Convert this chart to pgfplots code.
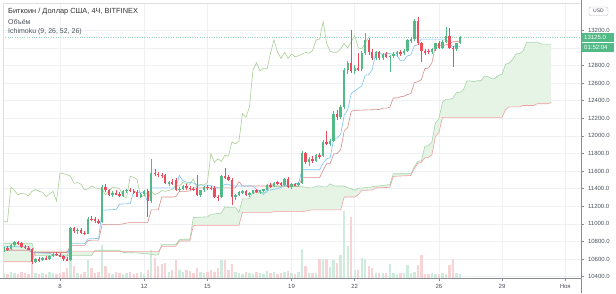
\documentclass[border=0pt]{standalone}
\usepackage{pgfplots}
\pgfplotsset{compat=1.18}
\usepgfplotslibrary{fillbetween}
\usepackage{pgfplotstable}
\usepackage{fontspec}
\setmainfont{Liberation Sans}

\definecolor{upc}{HTML}{53B987}
\definecolor{dnc}{HTML}{EB4D5C}
\definecolor{tenkan}{HTML}{7CC4F4}
\definecolor{kijun}{HTML}{D98C8C}
\definecolor{chikou}{HTML}{A9CF96}
\definecolor{spanA}{HTML}{A6D4A8}
\definecolor{spanB}{HTML}{F0A0A0}
\definecolor{cloud}{HTML}{E6F4E6}
\definecolor{gridc}{HTML}{EEF0F4}
\definecolor{axisc}{HTML}{8A8D94}
\definecolor{txt}{HTML}{4A4F59}
\definecolor{volup}{HTML}{CFEBDD}
\definecolor{voldn}{HTML}{F7D3D6}

% k open high low close volume
\pgfplotstableread{
k o h l c v
0 10700 10740 10680 10720 5
1 10720 10750 10690 10710 4
2 10710 10770 10700 10760 6
3 10760 10800 10740 10790 5
4 10790 10810 10760 10780 4
5 10780 10790 10730 10740 6
6 10740 10760 10710 10730 5
7 10730 10750 10700 10710 4
8 10720 10730 10540 10570 15
9 10570 10610 10550 10600 5
10 10600 10620 10570 10590 4
11 10590 10620 10580 10610 5
12 10610 10630 10590 10600 4
13 10600 10650 10590 10640 6
14 10640 10670 10620 10660 5
15 10660 10680 10640 10650 4
16 10650 10670 10620 10630 5
17 10630 10650 10580 10600 6
18 10600 10620 10580 10590 10
19 10590 10970 10580 10950 18
20 10950 10970 10900 10920 12
21 10920 10950 10890 10930 5
22 10930 10950 10880 10900 4
23 10900 10920 10870 10890 6
24 10890 11080 10880 11060 18
25 11060 11090 11030 11050 10
26 11050 11080 11010 11030 5
27 11030 11060 11000 11020 6
28 11020 11440 11010 11420 33
29 11420 11450 11360 11380 12
30 11380 11400 11320 11330 5
31 11330 11370 11310 11350 4
32 11350 11380 11330 11340 6
33 11340 11360 11300 11320 5
34 11320 11380 11310 11370 4
35 11370 11400 11350 11390 5
36 11390 11410 11360 11370 6
37 11370 11400 11340 11360 4
38 11360 11390 11300 11310 5
39 11310 11350 11290 11340 6
40 11340 11380 11320 11370 4
41 11370 11400 11080 11260 8
42 11260 11740 11240 11580 28
43 11580 11620 11540 11570 20
44 11570 11590 11530 11560 12
45 11560 11580 11520 11540 14
46 11550 11570 11450 11460 15
47 11460 11490 11430 11470 6
48 11480 11510 11440 11450 8
49 11500 11520 11370 11385 18
50 11385 11420 11360 11400 8
51 11400 11440 11380 11430 6
52 11430 11450 11390 11410 8
53 11410 11430 11380 11400 7
54 11400 11420 11370 11390 5
55 11410 11560 11320 11330 10
56 11330 11390 11310 11380 6
57 11380 11430 11360 11420 5
58 11420 11440 11390 11410 6
59 11410 11430 11380 11400 8
60 11410 11430 11290 11310 6
61 11310 11330 11260 11300 10
62 11300 11560 11290 11540 18
63 11540 11640 11510 11530 18
64 11530 11560 11490 11500 8
65 11500 11520 11220 11300 14
66 11300 11340 11270 11330 6
67 11330 11370 11320 11360 5
68 11360 11390 11340 11370 4
69 11370 11380 11320 11330 6
70 11330 11360 11310 11350 5
71 11350 11390 11340 11380 4
72 11380 11400 11350 11370 6
73 11370 11390 11340 11380 5
74 11380 11400 11360 11390 4
75 11390 11450 11380 11440 7
76 11440 11460 11410 11430 5
77 11430 11480 11420 11470 6
78 11470 11490 11440 11460 4
79 11460 11480 11430 11450 5
80 11440 11520 11430 11510 6
81 11510 11530 11410 11420 7
82 11420 11460 11400 11450 5
83 11450 11470 11430 11440 4
84 11440 11480 11430 11470 6
85 11470 11830 11450 11800 29
86 11800 11820 11680 11700 12
87 11700 11760 11660 11740 5
88 11740 11770 11690 11710 5
89 11710 11790 11700 11780 5
90 11780 11800 11740 11770 19
91 11770 11950 11760 11930 19
92 11930 12050 11900 11910 19
93 11910 11960 11880 11940 11
94 11940 12280 11930 12250 18
95 12250 12290 12180 12210 15
96 12210 12350 12190 12330 23
97 12330 12770 12310 12750 67
98 12750 12850 12700 12830 32
99 12830 13200 12720 12740 61
100 12740 12800 12700 12770 8
101 12770 12940 12740 12760 8
102 12760 12960 12740 12940 20
103 12940 13170 12920 13090 19
104 13090 13110 12920 12950 12
105 12950 12990 12860 12880 10
106 12880 12960 12860 12950 5
107 12950 12970 12860 12880 5
108 12880 12940 12860 12930 5
109 12930 12950 12880 12900 5
110 12900 12920 12730 12910 14
111 12910 12950 12880 12930 5
112 12930 12970 12900 12950 4
113 12950 12980 12910 12940 5
114 12940 12990 12920 12970 5
115 12970 13100 12950 13090 13
116 13090 13120 13060 13100 5
117 13100 13330 13080 13300 6
118 13300 13350 13030 13050 13
119 13050 13070 12840 12960 23
120 12960 12990 12920 12950 4
121 12970 12990 12930 12950 4
122 12950 13000 12930 12990 5
123 12990 13060 12970 13050 4
124 13060 13080 12990 13000 4
125 13000 13090 12990 13070 5
126 13070 13240 13050 13140 4
127 13140 13230 12990 13000 13
128 13000 13020 12780 12990 19
129 12990 13060 12970 13050 5
130 13050 13140 13040 13125 4
}\candles

% Tenkan-sen
\pgfplotstableread{
k y
0 10740
7 10740
8 10675
13 10665
14 10650
15 10645
16 10635
17 10615
18 10625
19 10775
23 10775
24 10830
27 10835
28 11155
32 11165
33 11225
36 11230
37 11375
38 11355
40 11355
41 11245
42 11410
49 11410
50 11550
51 11490
52 11475
53 11470
54 11465
55 11440
58 11440
59 11435
60 11425
61 11410
62 11410
63 11450
64 11450
65 11430
71 11430
72 11390
73 11370
74 11335
75 11380
76 11385
77 11395
78 11400
79 11415
80 11430
81 11435
82 11445
83 11455
84 11465
85 11615
90 11615
91 11690
92 11740
93 11750
94 11970
95 11975
96 12020
97 12235
98 12295
99 12480
101 12540
102 12565
103 12690
104 12695
105 12755
106 12950
107 12950
108 12920
109 12940
111 12930
112 12915
113 12855
114 12855
115 12910
116 12920
117 13025
118 13035
119 13100
126 13100
127 13045
128 13015
130 13015
}\tenkan

% Kijun-sen
\pgfplotstableread{
k y
0 10700
7 10700
8 10675
18 10675
19 10755
23 10755
24 10810
25 10815
27 10815
28 10990
29 10995
33 10995
34 11000
35 11010
36 11015
41 11015
42 11160
44 11160
45 11305
48 11305
49 11310
50 11370
52 11370
53 11375
54 11410
66 11410
67 11480
68 11430
84 11430
85 11525
90 11525
91 11610
92 11685
93 11685
94 11795
95 11800
96 11845
97 12055
98 12095
99 12280
100 12290
107 12300
108 12315
109 12315
110 12325
111 12430
112 12430
113 12445
114 12450
115 12470
116 12480
117 12605
118 12615
119 12640
120 12765
121 12770
122 12830
123 13025
125 13025
126 13035
127 13045
128 13070
130 13070
}\kijun

% Senkou span A
\pgfplotstableread{
k y
0 10780
8 10780
9 10640
25 10640
26 10700
33 10700
34 10675
38 10670
40 10662
41 10660
42 10655
43 10645
44 10650
45 10765
49 10765
50 10820
51 10825
53 10825
54 11072
57 11078
58 11080
59 11110
60 11112
61 11118
62 11122
63 11195
64 11185
66 11185
67 11130
68 11285
70 11285
71 11357
74 11357
75 11360
76 11460
77 11430
78 11422
79 11422
80 11437
81 11425
84 11425
85 11422
86 11417
87 11410
88 11410
89 11430
90 11430
91 11420
92 11420
93 11455
94 11430
97 11430
98 11410
99 11400
100 11382
101 11405
102 11407
103 11412
104 11415
105 11422
106 11430
107 11432
108 11437
109 11442
110 11447
111 11570
116 11570
117 11650
118 11712
119 11717
120 11882
121 11887
122 11932
123 12145
124 12195
125 12380
126 12415
127 12415
128 12430
129 12492
130 12495
131 12527
132 12625
133 12625
134 12617
135 12627
136 12627
137 12680
138 12672
139 12650
140 12652
141 12690
142 12700
143 12815
144 12825
145 12870
146 12932
147 12935
148 12965
149 13062
151 13062
152 13067
153 13045
154 13042
156 13042
}\spanA

% Senkou span B
\pgfplotstableread{
k y
0 10570
8 10570
9 10690
25 10690
26 10685
44 10685
45 10745
49 10745
50 10805
53 10805
54 10980
55 10985
67 10985
68 11130
76 11130
77 11140
85 11140
86 11145
87 11155
88 11160
96 11160
97 11305
100 11305
101 11330
102 11380
105 11385
106 11410
110 11415
111 11540
116 11550
117 11630
118 11690
119 11700
120 11750
121 11755
122 11785
123 11995
124 12035
125 12210
142 12210
143 12300
144 12330
147 12330
148 12345
151 12345
152 12365
155 12365
156 12380
}\spanB

\begin{document}
\begin{tikzpicture}[font=\fontsize{6}{7}\selectfont]
\begin{axis}[
  at={(0pt,0pt)}, anchor=south west,
  scale only axis, width=578pt, height=275pt,
  xmin=-0.257, xmax=164.5, ymin=10385, ymax=13510,
  axis line style={draw=none},
  xtick={16,40,58,82,100,124,142,160},
  xticklabels={8,12,15,19,22,26,29,Ноя},
  ytick={10400,10600,10800,11000,11200,11400,11600,11800,12000,12200,12400,12600,12800,13000,13200},
  yticklabels={10400.0,10600.0,10800.0,11000.0,11200.0,11400.0,11600.0,11800.0,12000.0,12200.0,12400.0,12600.0,12800.0,{},13200.0},
  yticklabel pos=right, ytick pos=right, xtick pos=bottom,
  tick align=outside, major tick length=2.5pt,
  tick style={axisc, line width=0.5pt},
  grid=major, major grid style={gridc, line width=0.6pt},
  yticklabel style={color=txt, font=\fontsize{6}{7}\selectfont, xshift=1pt},
  xticklabel style={color=txt, font=\fontsize{6}{7}\selectfont},
  clip=true,
]
% volume
\addplot[ycomb, volup, line width=2.4pt, mark=none]
  table[x=k, y expr={\thisrow{c}>=\thisrow{o} ? 10385+\thisrow{v}*11.364 : 9000}] {\candles};
\addplot[ycomb, voldn, line width=2.4pt, mark=none]
  table[x=k, y expr={\thisrow{c}<\thisrow{o} ? 10385+\thisrow{v}*11.364 : 9000}] {\candles};
% cloud
\addplot[draw=none, name path=sa, forget plot] table[x=k,y=y] {\spanA};
\addplot[draw=none, name path=sb, forget plot] table[x=k,y=y] {\spanB};
\addplot[cloud] fill between[of=sa and sb];
\addplot[spanA, line width=0.6pt] table[x=k,y=y] {\spanA};
\addplot[spanB, line width=0.6pt] table[x=k,y=y] {\spanB};
% chikou
\addplot[chikou, line width=0.6pt] table[x expr=\thisrow{k}-26, y=c] {\candles};
% kijun, tenkan
\addplot[kijun, line width=0.6pt] table[x=k,y=y] {\kijun};
\addplot[tenkan, line width=0.6pt] table[x=k,y=y] {\tenkan};
% price line
\draw[upc!60, dotted, line width=0.4pt] (axis cs:-1,13125) -- (axis cs:165,13125);
% candles: wicks
\addplot[draw=none, mark=none,
  error bars/.cd, y dir=both, y explicit, error mark=none,
  error bar style={draw=upc, line width=0.5pt}]
  table[x=k, y expr={\thisrow{c}>=\thisrow{o} ? (\thisrow{h}+\thisrow{l})/2 : 5000}, y error expr=(\thisrow{h}-\thisrow{l})/2] {\candles};
\addplot[draw=none, mark=none,
  error bars/.cd, y dir=both, y explicit, error mark=none,
  error bar style={draw=dnc, line width=0.5pt}]
  table[x=k, y expr={\thisrow{c}<\thisrow{o} ? (\thisrow{h}+\thisrow{l})/2 : 5000}, y error expr=(\thisrow{h}-\thisrow{l})/2] {\candles};
% candles: bodies
\addplot[draw=none, mark=none,
  error bars/.cd, y dir=both, y explicit, error mark=none,
  error bar style={draw=upc, line width=2.4pt}]
  table[x=k, y expr={\thisrow{c}>=\thisrow{o} ? (\thisrow{o}+\thisrow{c})/2 : 5000}, y error expr={max(abs(\thisrow{c}-\thisrow{o})/2,6)}] {\candles};
\addplot[draw=none, mark=none,
  error bars/.cd, y dir=both, y explicit, error mark=none,
  error bar style={draw=dnc, line width=2.4pt}]
  table[x=k, y expr={\thisrow{c}<\thisrow{o} ? (\thisrow{o}+\thisrow{c})/2 : 5000}, y error expr={max(abs(\thisrow{c}-\thisrow{o})/2,6)}] {\candles};
\end{axis}
% frame
\draw[gray!25, line width=0.5pt] (0pt,0pt) -- (0pt,275pt) -- (578pt,275pt);
\draw[axisc, line width=0.6pt] (-3pt,0pt) -- (578pt,0pt);
\draw[axisc, line width=0.6pt] (578pt,-15pt) -- (578pt,278pt);
% price badges
\fill[upc] (579pt,236.5pt) rectangle (611pt,245.5pt);
\node[white, anchor=west, inner sep=0pt] at (581pt,241pt) {13125.0};
\fill[upc] (579pt,226pt) rectangle (611pt,235.5pt);
\node[white, anchor=west, inner sep=0pt] at (581pt,230.7pt) {01:52:04};
% USD box
\draw[gray!50, rounded corners=2pt, fill=white] (586pt,262.5pt) rectangle (605pt,271pt);
\node[txt, inner sep=0pt, font=\fontsize{5}{6}\selectfont] at (595.5pt,266.8pt) {USD};
% legend texts
\node[anchor=west, inner sep=0pt, color=black!80, font=\fontsize{7.4}{8}\selectfont] at (5pt,266pt) {Биткоин / Доллар США, 4Ч, BITFINEX};
\node[anchor=west, inner sep=0pt, color=txt, font=\fontsize{7}{8}\selectfont] at (5pt,256pt) {Объём};
\node[anchor=west, inner sep=0pt, color=txt, font=\fontsize{7}{8}\selectfont] at (5pt,246pt) {Ichimoku (9, 26, 52, 26)};
\pgfresetboundingbox
\path[use as bounding box] (-3pt,-15pt) rectangle (613pt,278pt);
\end{tikzpicture}
\end{document}
